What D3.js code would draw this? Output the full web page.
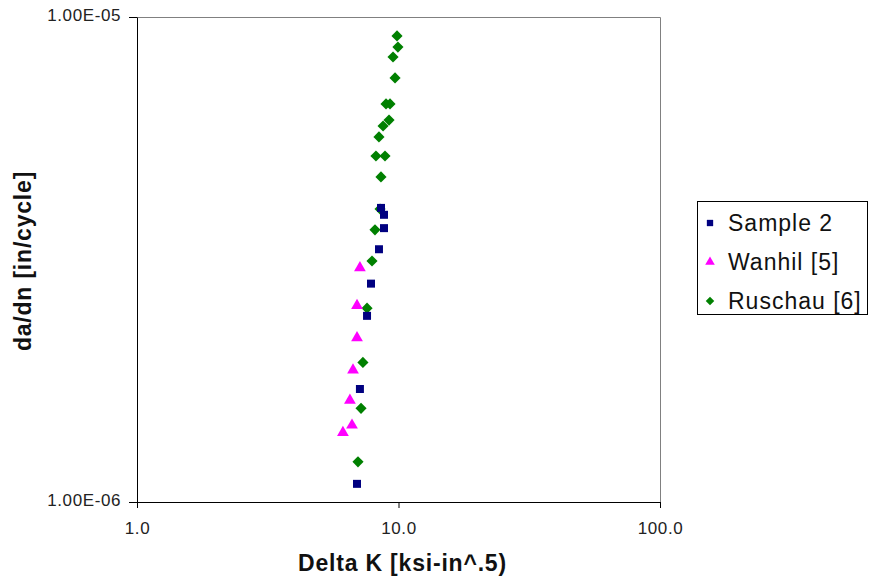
<!DOCTYPE html>
<html><head><meta charset="utf-8">
<script src="https://cdn.jsdelivr.net/npm/d3@7"></script>
<style>body{margin:0;background:#fff;}svg{display:block;font-family:Arial,"Liberation Sans",sans-serif;}</style>
</head><body>
<svg id="c" width="873" height="581"></svg>
<script>
const sample2K = [8.57, 8.80, 8.80, 8.42, 7.85, 7.58, 7.12, 6.94];
const sample2R = [4.04e-6, 3.91e-6, 3.67e-6, 3.32e-6, 2.82e-6, 2.42e-6, 1.71e-6, 1.09e-6];
const wanhilK = [7.12, 6.94, 6.94, 6.70, 6.52, 6.64, 6.13];
const wanhilR = [3.04e-6, 2.54e-6, 2.18e-6, 1.87e-6, 1.62e-6, 1.44e-6, 1.39e-6];
const ruschauK = [9.87, 9.95, 9.53, 9.70, 8.96, 9.28, 9.20, 8.73, 8.42, 8.20, 8.88, 8.57, 8.50, 8.13, 7.92, 7.58, 7.31, 7.19, 7.00];
const ruschauR = [9.14e-6, 8.67e-6, 8.27e-6, 7.49e-6, 6.62e-6, 6.62e-6, 6.13e-6, 5.96e-6, 5.66e-6, 5.17e-6, 5.17e-6, 4.68e-6, 4.02e-6, 3.64e-6, 3.14e-6, 2.51e-6, 1.94e-6, 1.56e-6, 1.21e-6];
const xTicks = [1, 10, 100];
const xTickLabels = ["1.0", "10.0", "100.0"];
const yTicks = [1e-6, 1e-5];
const yTickLabels = ["1.00E-06", "1.00E-05"];
const seriesNames = ["Sample 2", "Wanhil [5]", "Ruschau [6]"];

const svg = d3.select("#c");
const L = 137, R = 660, T = 17, B = 502;
const x = d3.scaleLog().domain([1, 100]).range([L, R]);
const y = d3.scaleLog().domain([1e-6, 1e-5]).range([B, T]);

// plot area border (top/right grey)
svg.append("path").attr("d", `M${L},${T+0.5}H${R+0.5}V${B}`).attr("fill","none").attr("stroke","#808080").attr("stroke-width",1);

const xAxis = d3.axisBottom(x).tickValues(xTicks).tickFormat((d,i)=>xTickLabels[i]).tickSizeInner(6).tickSizeOuter(0).tickPadding(14);
const gx = svg.append("g").attr("transform",`translate(0,${B})`).call(xAxis);
const yAxis = d3.axisLeft(y).tickValues(yTicks).tickFormat((d,i)=>yTickLabels[i]).tickSizeInner(8).tickSizeOuter(0).tickPadding(8);
const gy = svg.append("g").attr("transform",`translate(${L},0)`).call(yAxis);
[gx, gy].forEach(g => {
  g.attr("font-size", null).attr("font-family", null);
  g.selectAll("path,line").attr("stroke","#000");
  g.selectAll("text").style("font-size","17px").style("letter-spacing","0.6px").attr("fill","#222")
    .style("font-family","Arial, 'Liberation Sans', sans-serif");
});
gy.selectAll("text").attr("dy","0.2em");

const diamond = { draw(ctx, size) { const r = Math.sqrt(size/2); ctx.moveTo(0,-r); ctx.lineTo(r,0); ctx.lineTo(0,r); ctx.lineTo(-r,0); ctx.closePath(); } };

const series = [
  {K: sample2K, R: sample2R, color: "#000080", sym: d3.symbolSquare, size: 64, lsize: 40},
  {K: wanhilK, R: wanhilR, color: "#FF00FF", sym: d3.symbolTriangle, size: 60, lsize: 40},
  {K: ruschauK, R: ruschauR, color: "#008000", sym: diamond, size: 62, lsize: 36}
];
[series[2], series[1], series[0]].forEach(s => {
  svg.append("g").selectAll("path").data(s.K.map((k,i)=>[k, s.R[i]])).join("path")
    .attr("d", d3.symbol().type(s.sym).size(s.size))
    .attr("transform", d => `translate(${x(d[0])},${y(d[1])})`)
    .attr("fill", s.color);
});

// axis titles
svg.append("text").attr("x", (L+R)/2 + 4).attr("y", 571).attr("text-anchor","middle")
  .style("font-size","23px").style("letter-spacing","0.8px").attr("font-weight","bold").attr("fill","#111").text("Delta K [ksi-in^.5)");
svg.append("text").attr("transform", `translate(31,261) rotate(-90)`).attr("text-anchor","middle")
  .style("font-size","23px").style("letter-spacing","0.8px").attr("font-weight","bold").attr("fill","#111").text("da/dn [in/cycle]");

// legend
const lg = svg.append("g");
lg.append("rect").attr("x",697.5).attr("y",201.5).attr("width",170).attr("height",113).attr("fill","#fff").attr("stroke","#000");
series.forEach((s,i) => {
  const cy = 223 + i*39;
  lg.append("path").attr("d", d3.symbol().type(s.sym).size(s.lsize)).attr("transform",`translate(710,${cy})`).attr("fill", s.color);
  lg.append("text").attr("x",728).attr("y",cy+8).style("font-size","23px").style("letter-spacing","1px").attr("fill","#111").text(seriesNames[i]);
});
</script>
</body></html>
